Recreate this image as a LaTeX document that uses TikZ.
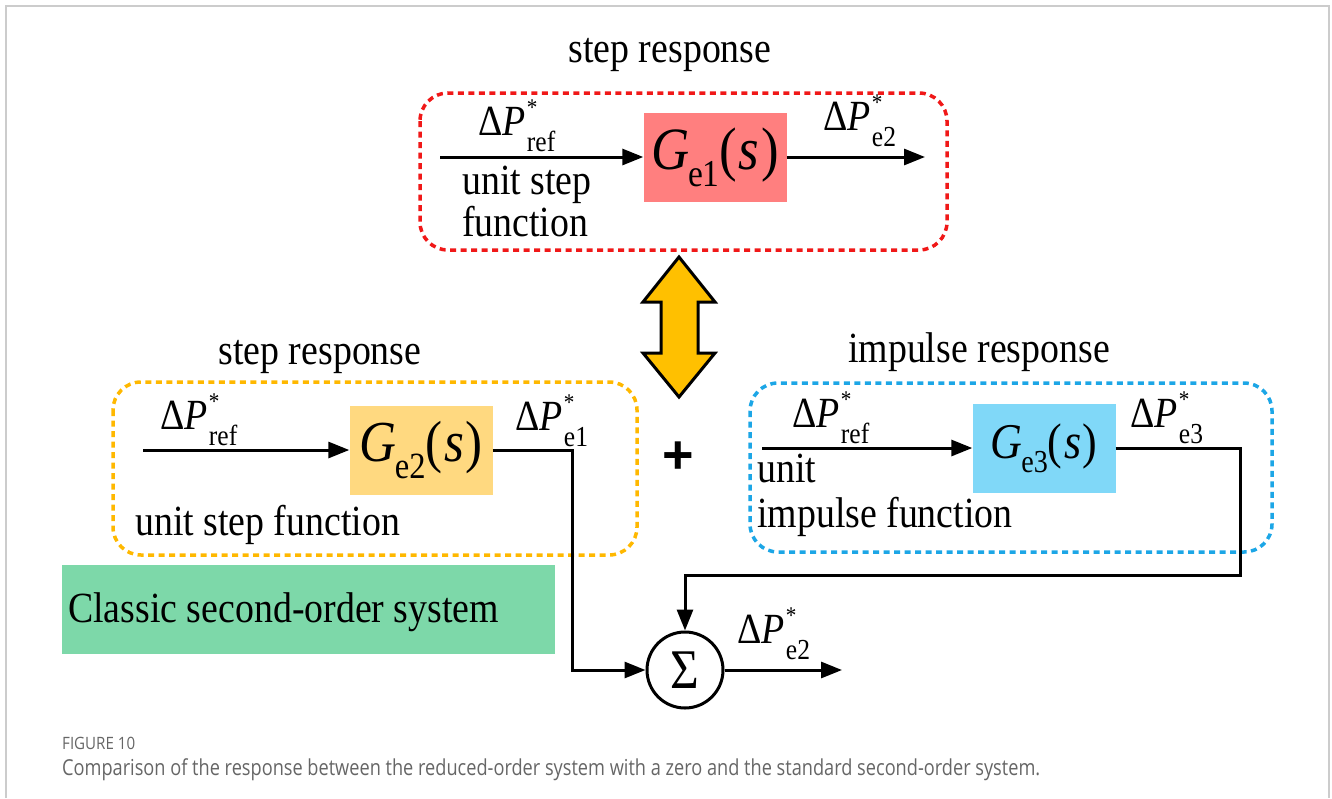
\documentclass[tikz,border=0pt]{standalone}
\usepackage{fontspec}
\setmainfont{Liberation Serif}[FakeStretch=0.88]
\newfontfamily\capfont{Open Sans}
\newfontfamily\plusfont{Liberation Sans}
\usetikzlibrary{arrows.meta}

\definecolor{framegray}{HTML}{CCCCCC}
\definecolor{grpred}{HTML}{F01818}
\definecolor{grporange}{HTML}{FFB800}
\definecolor{grpblue}{HTML}{1CA6E6}
\definecolor{fillred}{HTML}{FF7F7F}
\definecolor{fillyellow}{HTML}{FFD980}
\definecolor{fillblue}{HTML}{80D8F8}
\definecolor{fillgreen}{HTML}{7DD8A9}
\definecolor{arrowgold}{HTML}{FFC000}
\definecolor{capgray}{HTML}{666666}

\newcommand{\sz}[1]{\fontsize{#1}{#1}\selectfont}
% signal name: Delta P, starred, with a subscript
\newcommand{\sigP}[1]{{\sz{43}Δ\textit{P}\kern0.03em\makebox[0pt][l]{\raisebox{0.45em}{\sz{24}*}}\raisebox{-0.38em}{\sz{29}#1}}}
% transfer function G_sub(s) at a given size
\newcommand{\tfun}[3]{{\sz{#2}\textit{G}\kern-0.02em\raisebox{-0.28em}{\sz{#3}#1}(\kern0.03em\textit{s}\kern0.03em)}}

\tikzset{
  sig/.style={line width=3pt, -{Triangle[length=21pt,width=16pt]}},
  tfbox/.style={minimum width=143pt, minimum height=89pt, inner sep=0pt},
  grp/.style={line width=3.5pt, dash pattern=on 6pt off 4.5pt, rounded corners=28pt},
  lbl/.style={inner sep=0pt, anchor=base west},
  ttl/.style={inner sep=0pt, anchor=base, font=\sz{43}},
  txt/.style={inner sep=0pt, anchor=base west, font=\sz{43}},
}

\begin{document}
\begin{tikzpicture}[x=1pt,y=-1pt]
\useasboundingbox (0,0) rectangle (1332,798);

% page frame
\draw[framegray, line width=2pt] (6,798) -- (6,6) -- (1329,6) -- (1329,798);

% ---------- top group: step response of G_e1 ----------
\node[ttl] (t1) at (670,62) {step response};
\draw[grp, grpred] (420,93) rectangle (947,250);
\node[tfbox, fill=fillred] (g1) at (715,157) {\tfun{e1}{60}{38}};
\coordinate (in1) at (440,157);
\coordinate (out1) at (925,157);
\draw[sig] (in1) -- (g1.west);
\draw[sig] (g1.east) -- (out1);
\node[lbl] (l1a) at (478,135) {\sigP{ref}};
\node[lbl] (l1b) at (823,130) {\sigP{e2}};
\node[txt] (u1a) at (462,194) {unit step};
\node[txt] (u1b) at (462,236) {function};

% ---------- equivalence arrow ----------
\filldraw[fill=arrowgold, draw=black, line width=3pt]
  (679,257) -- (715,302) -- (698,302) -- (698,353) -- (715,353) -- (679,397)
  -- (643,353) -- (661,353) -- (661,302) -- (643,302) -- cycle;

% ---------- left group: step response of G_e2 ----------
\node[ttl] (t2) at (320,364) {step response};
\draw[grp, grporange] (113,382) rectangle (637,555);
\node[tfbox, fill=fillyellow] (g2) at (421,450) {\tfun{e2}{58}{37}};
\coordinate (in2) at (143,450);
\draw[sig] (in2) -- (g2.west);
\node[lbl] (l2a) at (160,429) {\sigP{ref}};
\node[lbl] (l2b) at (515,430) {\sigP{e1}};
\node[txt] (u2) at (135,535) {unit step function};

% plus sign between the two lower groups
\node[inner sep=0pt, font=\plusfont\bfseries\sz{54}] (plus) at (678,458) {+};

% ---------- right group: impulse response of G_e3 ----------
\node[ttl] (t3) at (979,362) {impulse response};
\draw[grp, grpblue] (750,383) rectangle (1272,552);
\node[tfbox, fill=fillblue] (g3) at (1044,448) {\tfun{e3}{50}{32}};
\coordinate (in3) at (762,448);
\draw[sig] (in3) -- (g3.west);
\node[lbl] (l3a) at (792,427) {\sigP{ref}};
\node[lbl] (l3b) at (1130,427) {\sigP{e3}};
\node[txt] (u3a) at (757,482) {unit};
\node[txt] (u3b) at (757,527) {impulse function};

% ---------- classic second-order system tag ----------
\node[fill=fillgreen, minimum width=493pt, minimum height=89pt, inner sep=0pt] (cls) at (308.5,609.5) {};
\node[txt] (clst) at (68,622) {Classic second-order system};

% ---------- summing junction ----------
\node[circle, draw, line width=3pt, minimum size=76pt, inner sep=0pt] (sum) at (685,670) {\sz{56}Σ};
\coordinate (k2) at (572,450);
\coordinate (k3) at (1240,448);
\coordinate (k4) at (1240,575);
\coordinate (out4) at (842,670);
\draw[sig] (g2.east) -- (k2) |- (sum.west);
\draw[sig] (g3.east) -- (k3) -- (k4) -| (sum.north);
\draw[sig] (sum.east) -- (out4);
\node[lbl] (l4) at (737,643) {\sigP{e2}};

% ---------- caption ----------
\node[inner sep=0pt, anchor=base west, text=capgray] (fig) at (62,749)
  {\resizebox{73pt}{\height}{\capfont\sz{17}FIGURE 10}};
\node[inner sep=0pt, anchor=base west, text=capgray] (cap) at (62,775)
  {\resizebox{978pt}{\height}{\capfont\sz{22}Comparison of the response between the reduced-order system with a zero and the standard second-order system.}};
\end{tikzpicture}
\end{document}
